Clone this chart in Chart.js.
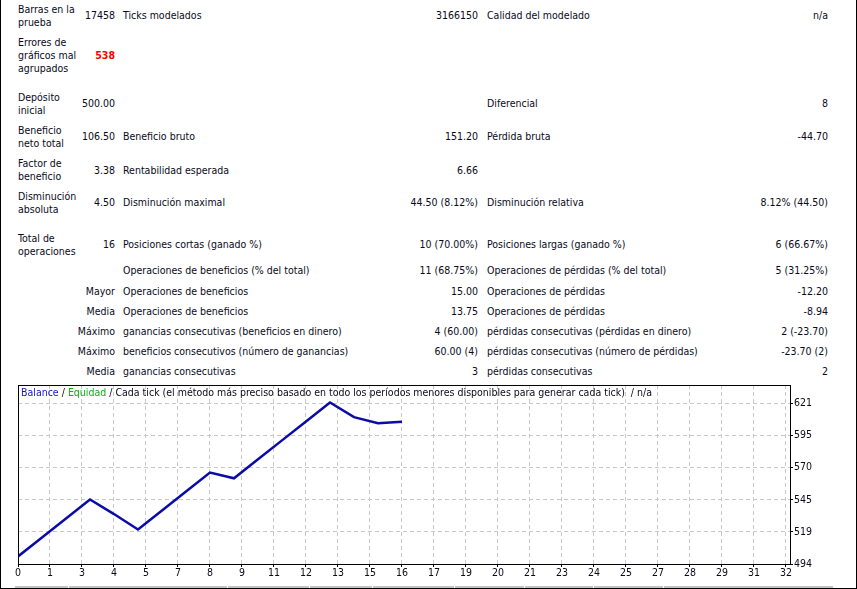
<!DOCTYPE html>
<html>
<head>
<meta charset="utf-8">
<script src="https://cdn.jsdelivr.net/npm/chart.js@4"></script>
<style>
  html, body { margin: 0; padding: 0; background: #fff; }
  body { width: 857px; height: 589px; overflow: hidden; }
  #page {
    position: absolute; left: 0; top: 0; width: 855px; height: 588px;
    border-left: 1px solid #000; border-right: 1px solid #000; border-bottom: 1px solid #000;
    font-family: "DejaVu Sans Condensed", "DejaVu Sans", sans-serif;
    font-stretch: condensed;
    font-size: 10.5px; line-height: 13px; color: #0a0a1a;
  }
  .t { position: absolute; white-space: nowrap; }
  .r { position: absolute; white-space: nowrap; text-align: right; }
  .bad { color: #ff0000; font-weight: bold; }
  #chartBox { position: absolute; left: 0; top: 375px; width: 857px; height: 210px; }
  #legend { position: absolute; left: 20px; top: 386px; }
  #legend .bal { color: #1414c8; }
  #legend .eq { color: #10b010; }
  .seg { position: absolute; top: 586px; height: 2px; background: #c4c4c4; }
</style>
</head>
<body>
<div id="page">
  <!-- fila 1 -->
  <div class="t" style="left:17px;top:3px">Barras en la<br>prueba</div>
  <div class="r" style="right:741px;top:9px">17458</div>
  <div class="t" style="left:122px;top:9px">Ticks modelados</div>
  <div class="r" style="right:378px;top:9px">3166150</div>
  <div class="t" style="left:486px;top:9px">Calidad del modelado</div>
  <div class="r" style="right:28px;top:9px">n/a</div>

  <div class="t" style="left:17px;top:35.5px">Errores de<br>gráficos mal<br>agrupados</div>
  <div class="r bad" style="right:741px;top:48.5px">538</div>

  <div class="t" style="left:17px;top:90.5px">Depósito<br>inicial</div>
  <div class="r" style="right:741px;top:97px">500.00</div>
  <div class="t" style="left:486px;top:97px">Diferencial</div>
  <div class="r" style="right:28px;top:97px">8</div>

  <div class="t" style="left:17px;top:123.5px">Beneficio<br>neto total</div>
  <div class="r" style="right:741px;top:130px">106.50</div>
  <div class="t" style="left:122px;top:130px">Beneficio bruto</div>
  <div class="r" style="right:378px;top:130px">151.20</div>
  <div class="t" style="left:486px;top:130px">Pérdida bruta</div>
  <div class="r" style="right:28px;top:130px">-44.70</div>

  <div class="t" style="left:17px;top:157px">Factor de<br>beneficio</div>
  <div class="r" style="right:741px;top:163.5px">3.38</div>
  <div class="t" style="left:122px;top:163.5px">Rentabilidad esperada</div>
  <div class="r" style="right:378px;top:163.5px">6.66</div>

  <div class="t" style="left:17px;top:189.5px">Disminución<br>absoluta</div>
  <div class="r" style="right:741px;top:196px">4.50</div>
  <div class="t" style="left:122px;top:196px">Disminución maximal</div>
  <div class="r" style="right:378px;top:196px">44.50 (8.12%)</div>
  <div class="t" style="left:486px;top:196px">Disminución relativa</div>
  <div class="r" style="right:28px;top:196px">8.12% (44.50)</div>

  <div class="t" style="left:17px;top:232px">Total de<br>operaciones</div>
  <div class="r" style="right:741px;top:238px">16</div>
  <div class="t" style="left:122px;top:238px">Posiciones cortas (ganado %)</div>
  <div class="r" style="right:378px;top:238px">10 (70.00%)</div>
  <div class="t" style="left:486px;top:238px">Posiciones largas (ganado %)</div>
  <div class="r" style="right:28px;top:238px">6 (66.67%)</div>

  <div class="t" style="left:122px;top:264px">Operaciones de beneficios (% del total)</div>
  <div class="r" style="right:378px;top:264px">11 (68.75%)</div>
  <div class="t" style="left:486px;top:264px">Operaciones de pérdidas (% del total)</div>
  <div class="r" style="right:28px;top:264px">5 (31.25%)</div>

  <div class="r" style="right:741px;top:285px">Mayor</div>
  <div class="t" style="left:122px;top:285px">Operaciones de beneficios</div>
  <div class="r" style="right:378px;top:285px">15.00</div>
  <div class="t" style="left:486px;top:285px">Operaciones de pérdidas</div>
  <div class="r" style="right:28px;top:285px">-12.20</div>

  <div class="r" style="right:741px;top:304.5px">Media</div>
  <div class="t" style="left:122px;top:304.5px">Operaciones de beneficios</div>
  <div class="r" style="right:378px;top:304.5px">13.75</div>
  <div class="t" style="left:486px;top:304.5px">Operaciones de pérdidas</div>
  <div class="r" style="right:28px;top:304.5px">-8.94</div>

  <div class="r" style="right:741px;top:324.5px">Máximo</div>
  <div class="t" style="left:122px;top:324.5px">ganancias consecutivas (beneficios en dinero)</div>
  <div class="r" style="right:378px;top:324.5px">4 (60.00)</div>
  <div class="t" style="left:486px;top:324.5px">pérdidas consecutivas (pérdidas en dinero)</div>
  <div class="r" style="right:28px;top:324.5px">2 (-23.70)</div>

  <div class="r" style="right:741px;top:344.5px">Máximo</div>
  <div class="t" style="left:122px;top:344.5px">beneficios consecutivos (número de ganancias)</div>
  <div class="r" style="right:378px;top:344.5px">60.00 (4)</div>
  <div class="t" style="left:486px;top:344.5px">pérdidas consecutivas (número de pérdidas)</div>
  <div class="r" style="right:28px;top:344.5px">-23.70 (2)</div>

  <div class="r" style="right:741px;top:364.5px">Media</div>
  <div class="t" style="left:122px;top:364.5px">ganancias consecutivas</div>
  <div class="r" style="right:378px;top:364.5px">3</div>
  <div class="t" style="left:486px;top:364.5px">pérdidas consecutivas</div>
  <div class="r" style="right:28px;top:364.5px">2</div>

  <div id="chartBox"><canvas id="balanceChart" width="857" height="210"></canvas></div>
  <div id="legend" class="t"><span class="bal">Balance</span> / <span class="eq">Equidad</span> / Cada tick (el método más preciso basado en todo los períodos menores disponibles para generar cada tick)&nbsp; / n/a</div>

  <div class="seg" style="left:14px;width:53px"></div>
  <div class="seg" style="left:68px;width:158px"></div>
  <div class="seg" style="left:227px;width:81px"></div>
  <div class="seg" style="left:309px;width:62px"></div>
  <div class="seg" style="left:372px;width:81px"></div>
  <div class="seg" style="left:454px;width:69px"></div>
  <div class="seg" style="left:524px;width:68px"></div>
  <div class="seg" style="left:593px;width:69px"></div>
  <div class="seg" style="left:663px;width:169px"></div>
</div>

<script>
// Datos del gráfico de balance
const trades = [0, 1, 2, 3, 4, 5, 6, 7, 8, 9, 10, 11, 12, 13, 14, 15, 16];
const balance = [500.0, 515.0, 530.0, 545.0, 533.5, 521.3, 536.3, 551.3, 566.3,
                 561.8, 576.8, 591.8, 606.8, 621.8, 610.2, 605.3, 606.5];
const xTickLabels = ["0", "1", "3", "4", "5", "7", "8", "9", "11", "12", "13", "15", "16",
                     "17", "19", "20", "21", "23", "24", "25", "27", "28", "29", "31", "32"];
const yTickValues = [494, 519.4, 544.8, 570.2, 595.6, 621];
const yTickLabels = ["494", "519", "545", "570", "595", "621"];

const X_STEP = 4 / 3;      // separación de la rejilla en operaciones
const X_MAX = 32.1667;
const Y_MIN = 494, Y_MAX = 635.6;

Chart.defaults.font.family = '"DejaVu Sans Condensed", "DejaVu Sans", sans-serif';
Chart.defaults.font.size = 10.5;
Chart.defaults.color = "#0a0a1a";

// Marco negro alrededor del área del gráfico
const framePlugin = {
    id: "frame",
    afterDraw(chart) {
        const a = chart.chartArea, ctx = chart.ctx;
        ctx.save();
        ctx.strokeStyle = "#000";
        ctx.lineWidth = 1;
        ctx.strokeRect(Math.round(a.left) + 0.5, Math.round(a.top) + 0.5,
                       Math.round(a.right - a.left), Math.round(a.bottom - a.top));
        ctx.restore();
    }
};

const ctx = document.getElementById("balanceChart").getContext("2d");
new Chart(ctx, {
    type: "line",
    data: {
        datasets: [{
            label: "Balance",
            data: trades.map((t, i) => ({ x: t, y: balance[i] })),
            borderColor: "#0b0ba8",
            borderWidth: 2.5,
            pointRadius: 0,
            tension: 0,
            fill: false
        }]
    },
    options: {
        responsive: false,
        animation: false,
        devicePixelRatio: 1,
        layout: { padding: { left: 17, top: 10, right: 18, bottom: 7 } },
        plugins: { legend: { display: false }, tooltip: { enabled: false } },
        scales: {
            x: {
                type: "linear",
                min: 0, max: X_MAX,
                afterBuildTicks: s => { s.ticks = xTickLabels.map((_, i) => ({ value: i * X_STEP })); },
                afterFit: s => { s.height = 14; },
                ticks: {
                    autoSkip: false, maxRotation: 0, padding: 0,
                    callback: (v, i) => xTickLabels[i]
                },
                grid: { color: "#c8c8c8", tickColor: "#000", tickLength: 3, lineWidth: 1 },
                border: { display: true, color: "#000", dash: [4, 3] }
            },
            y: {
                position: "right",
                min: Y_MIN, max: Y_MAX,
                afterBuildTicks: s => { s.ticks = yTickValues.map(v => ({ value: v })); },
                afterFit: s => { s.width = 50; },
                ticks: {
                    autoSkip: false, padding: 1,
                    callback: (v, i) => yTickLabels[i]
                },
                grid: { color: "#c8c8c8", tickColor: "#000", tickLength: 3, lineWidth: 1 },
                border: { display: true, color: "#000", dash: [4, 3] }
            }
        }
    },
    plugins: [framePlugin]
});
</script>
</body>
</html>
